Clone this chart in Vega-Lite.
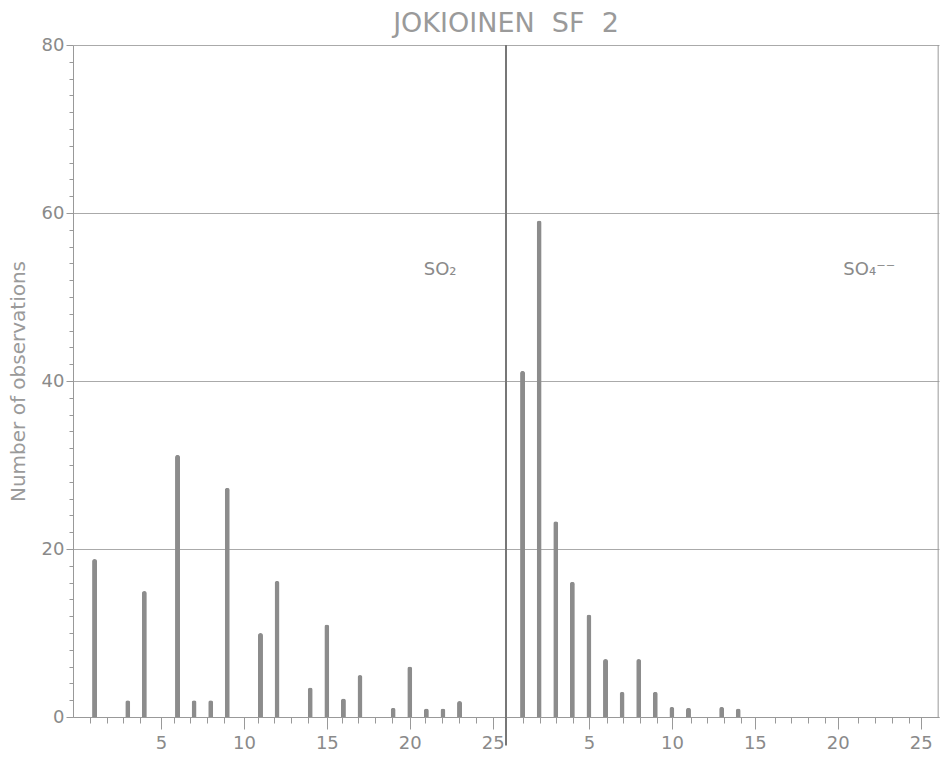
{
  "$schema": "https://vega.github.io/schema/vega-lite/v6.json",
  "width": 866,
  "height": 672,
  "autosize": {"type": "none"},
  "padding": {"left": 73, "top": 45, "right": 2, "bottom": 41},
  "background": "white",
  "title": {"text": "JOKIOINEN\u00a0\u00a0SF\u00a0\u00a02", "fontSize": 27, "font": "DejaVu Sans", "fontWeight": "normal", "color": "#9a9a9a", "anchor": "middle", "baseline": "alphabetic", "offset": 3, "dy": 26},
  "config": {"view": {"stroke": null}},
  "datasets": {
    "so2": [
      {"x": 1, "n": 18.8}, {"x": 3, "n": 2}, {"x": 4, "n": 15}, {"x": 6, "n": 31.2},
      {"x": 7, "n": 2}, {"x": 8, "n": 2}, {"x": 9, "n": 27.3}, {"x": 11, "n": 10},
      {"x": 12, "n": 16.2}, {"x": 14, "n": 3.5}, {"x": 15, "n": 11}, {"x": 16, "n": 2.2},
      {"x": 17, "n": 5}, {"x": 19, "n": 1.1}, {"x": 20, "n": 6}, {"x": 21, "n": 1},
      {"x": 22, "n": 1}, {"x": 23, "n": 1.9}
    ],
    "so4": [
      {"x": 1, "n": 41.2}, {"x": 2, "n": 59.1}, {"x": 3, "n": 23.3}, {"x": 4, "n": 16.1},
      {"x": 5, "n": 12.2}, {"x": 6, "n": 6.9}, {"x": 7, "n": 3}, {"x": 8, "n": 6.9},
      {"x": 9, "n": 3}, {"x": 10, "n": 1.2}, {"x": 11, "n": 1.1}, {"x": 13, "n": 1.2},
      {"x": 14, "n": 1}
    ]
  },
  "layer": [
    {
      "data": {"name": "so2"},
      "mark": {"type": "bar", "size": 5, "color": "#8c8c8c", "cornerRadiusTopLeft": 2.5, "cornerRadiusTopRight": 2.5},
      "encoding": {
        "x": {
          "field": "x", "type": "quantitative",
          "scale": {"domain": [0, 51.6], "nice": false, "zero": false},
          "axis": {
            "orient": "bottom", "title": null, "grid": false,
            "values": [5, 10, 15, 20, 25],
            "tickSize": 12, "tickColor": "#999", "domainColor": "#999", "domain": true,
            "labelColor": "#8a8a8a", "labelFontSize": 18, "labelFont": "DejaVu Sans",
            "labelPadding": 5, "labelFlush": false
          }
        },
        "y": {
          "field": "n", "type": "quantitative",
          "scale": {"domain": [0, 80], "nice": false},
          "axis": {
            "orient": "left",
            "title": "Number of observations", "titleFontSize": 20, "titleFont": "DejaVu Sans", "titleFontWeight": "normal",
            "titleColor": "#9a9a9a", "titlePadding": 13,
            "values": [0, 20, 40, 60, 80],
            "tickSize": 7, "tickColor": "#999", "domainColor": "#999",
            "labelColor": "#8a8a8a", "labelFontSize": 18, "labelFont": "DejaVu Sans",
            "labelPadding": 2,
            "grid": true, "gridColor": "#aaa"
          }
        }
      }
    },
    {
      "data": {"values": [{"x": 20.9, "y": 52.6, "label": "SO₂"}]},
      "mark": {"type": "text", "align": "left", "baseline": "alphabetic", "fontSize": 18, "font": "DejaVu Sans", "color": "#8a8a8a"},
      "encoding": {
        "x": {
          "field": "x", "type": "quantitative",
          "scale": {"domain": [0, 51.6], "nice": false, "zero": false},
          "axis": {
            "orient": "bottom", "title": null, "grid": false, "domain": false, "labels": false,
            "values": [1,2,3,4,6,7,8,9,11,12,13,14,16,17,18,19,21,22,23,24],
            "tickSize": 6, "tickColor": "#999"
          }
        },
        "y": {
          "field": "y", "type": "quantitative",
          "scale": {"domain": [0, 80], "nice": false},
          "axis": {
            "orient": "left", "title": null, "grid": false, "domain": false, "labels": false,
            "values": [2,4,6,8,10,12,14,16,18,22,24,26,28,30,32,34,36,38,42,44,46,48,50,52,54,56,58,62,64,66,68,70,72,74,76,78],
            "tickSize": 4, "tickColor": "#999"
          }
        },
        "text": {"field": "label"}
      }
    },
    {
      "data": {"name": "so4"},
      "mark": {"type": "bar", "size": 5, "color": "#8c8c8c", "cornerRadiusTopLeft": 2.5, "cornerRadiusTopRight": 2.5},
      "encoding": {
        "x": {
          "field": "x", "type": "quantitative",
          "scale": {"domain": [-25.8, 25.8], "nice": false, "zero": false},
          "axis": {
            "orient": "bottom", "title": null, "grid": false, "domain": false,
            "values": [5, 10, 15, 20, 25],
            "tickSize": 12, "tickColor": "#999",
            "labelColor": "#8a8a8a", "labelFontSize": 18, "labelFont": "DejaVu Sans",
            "labelPadding": 5, "labelFlush": false
          }
        },
        "y": {"field": "n", "type": "quantitative", "scale": {"domain": [0, 80], "nice": false}, "axis": null}
      }
    },
    {
      "layer": [
        {
          "data": {"values": [{"x": 20.1, "y": 52.6, "label": "SO₄⁻⁻"}]},
          "mark": {"type": "text", "align": "left", "baseline": "alphabetic", "fontSize": 18, "font": "DejaVu Sans", "color": "#8a8a8a"},
          "encoding": {
            "x": {
              "field": "x", "type": "quantitative",
              "scale": {"domain": [-25.8, 25.8], "nice": false, "zero": false},
              "axis": {
                "orient": "bottom", "title": null, "grid": false, "domain": false, "labels": false,
                "values": [1,2,3,4,6,7,8,9,11,12,13,14,16,17,18,19,21,22,23,24],
                "tickSize": 6, "tickColor": "#999"
              }
            },
            "y": {"field": "y", "type": "quantitative", "scale": {"domain": [0, 80], "nice": false}, "axis": null},
            "text": {"field": "label"}
          }
        },
        {
          "data": {"values": [{"x": 0, "top": 80, "bot": -3.4}]},
          "mark": {"type": "rule", "color": "#777", "strokeWidth": 2},
          "encoding": {
            "x": {"field": "x", "type": "quantitative"},
            "y": {"field": "top", "type": "quantitative"},
            "y2": {"field": "bot"}
          }
        },
        {
          "data": {"values": [{"x": 25.75, "top": 80, "bot": 0}]},
          "mark": {"type": "rule", "color": "#999", "strokeWidth": 1},
          "encoding": {
            "x": {"field": "x", "type": "quantitative"},
            "y": {"field": "top", "type": "quantitative"},
            "y2": {"field": "bot"}
          }
        }
      ]
    }
  ],
  "resolve": {
    "scale": {"x": "independent", "y": "independent"},
    "axis": {"x": "independent", "y": "independent"}
  }
}
